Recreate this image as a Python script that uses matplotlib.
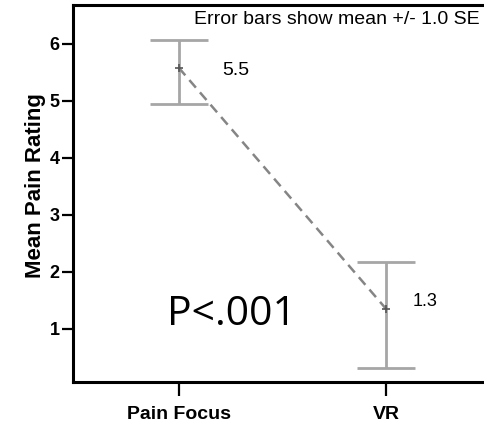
import numpy as np
import matplotlib.pyplot as plt

# data
groups = ["Pain Focus", "VR"]
means = [5.58, 1.35]
se_upper = [6.07, 2.17]
se_lower = [4.95, 0.32]
value_labels = ["5.5", "1.3"]

x = np.arange(len(groups))
yerr = np.array([np.array(means) - np.array(se_lower),
                 np.array(se_upper) - np.array(means)])

plt.rcParams['font.family'] = ['Liberation Sans', 'DejaVu Sans']

fig = plt.figure(figsize=(4.85, 4.29), dpi=100)
ax = fig.add_axes([73 / 485, 1 - 382 / 429, 1 - 73 / 485 + 0.01, (382 - 5) / 429])

ax.errorbar(x, means, yerr=yerr, fmt="none", ecolor="#a6a6a6", elinewidth=2,
            capsize=21, capthick=2)
ax.plot(x, means, ls=(0, (4, 2.5)), color="#858585", lw=1.8)
ax.plot(x, means, "+", color="#555555", ms=6, mew=1.2)

ax.text(x[0] + 0.21, 5.54, value_labels[0], fontsize=14, va="center")
ax.text(x[1] + 0.126, 1.49, value_labels[1], fontsize=13, va="center")

ax.text(1.45, 6.42, "Error bars show mean +/- 1.0 SE", fontsize=14, ha="right", va="center")
ax.text(0.256, 1.07, "P<.001", fontsize=29.5, ha="center", va="baseline",
        family=["Open Sans", "DejaVu Sans"])

ax.set_xlim(-0.51, 1.5)
ax.set_ylim(0.07, 6.68)
ax.set_xticks(x)
ax.set_xticklabels(groups, fontweight="bold", fontsize=14)
ax.set_yticks([1, 2, 3, 4, 5, 6])
ax.set_yticklabels(["1", "2", "3", "4", "5", "6"], fontweight="bold", fontsize=13)
ax.set_ylabel("Mean Pain Rating", fontweight="bold", fontsize=16, labelpad=3)
ax.yaxis.label.set_y(0.52)

for s in ["left", "bottom", "top"]:
    ax.spines[s].set_linewidth(2.2)
ax.spines["right"].set_visible(False)
ax.tick_params(axis="y", length=8, width=1.6, pad=1.5)
ax.tick_params(axis="x", length=10, width=1.6, pad=7)

fig.savefig("out.png", dpi=100)
